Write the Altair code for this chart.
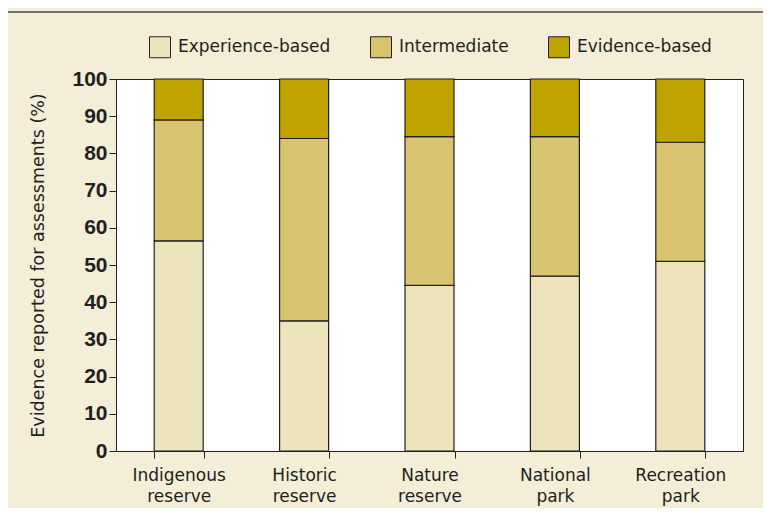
import altair as alt
import pandas as pd

categories = ["Indigenous reserve", "Historic reserve", "Nature reserve", "National park", "Recreation park"]
levels = ["Experience-based", "Intermediate", "Evidence-based"]
experience = [56.5, 35.0, 44.5, 47.0, 51.0]
intermediate = [32.5, 49.0, 40.0, 37.5, 32.0]
evidence = [11.0, 16.0, 15.5, 15.5, 17.0]
colors = ["#EDE3BD", "#D8C470", "#BFA400"]
y_ticks = [0, 10, 20, 30, 40, 50, 60, 70, 80, 90, 100]

rows = []
for i, c in enumerate(categories):
    for j, (lvl, vals) in enumerate(zip(levels, [experience, intermediate, evidence])):
        rows.append({"category": c, "level": lvl, "value": vals[i], "order": j})
df = pd.DataFrame(rows)

FONT = "DejaVu Sans"
INK = "#231f20"

bars = alt.Chart(df).mark_bar(size=49, stroke=INK, strokeWidth=1.2).encode(
    x=alt.X("category:N", sort=categories, title=None,
            scale=alt.Scale(paddingInner=0.6, paddingOuter=0.3),
            axis=alt.Axis(labelAngle=0, tickBand="extent", tickSize=7, tickColor=INK,
                          domainColor=INK, labelFont=FONT, labelFontSize=17,
                          labelColor=INK, labelPadding=9, labelLineHeight=21,
                          labelExpr="split(datum.label, ' ')", labelBaseline="top")),
    y=alt.Y("value:Q", stack="zero",
            scale=alt.Scale(domain=[0, 100], nice=False),
            axis=alt.Axis(values=y_ticks, grid=False, tickSize=7, tickColor=INK,
                          domainColor=INK, labelFont="Liberation Sans", labelFontWeight="bold",
                          labelFontSize=21, labelColor=INK, labelPadding=2,
                          title="Evidence reported for assessments (%)",
                          titleFont=FONT, titleFontSize=17.5, titleFontWeight="normal",
                          titleColor=INK, titlePadding=24)),
    color=alt.Color("level:N", scale=alt.Scale(domain=levels, range=colors),
                    legend=alt.Legend(title=None, orient="none", direction="horizontal",
                                      legendX=33, legendY=-43, padding=0,
                                      symbolType="square", symbolSize=441,
                                      symbolStrokeColor=INK, symbolStrokeWidth=1,
                                      symbolOpacity=1,
                                      labelFont=FONT, labelFontSize=17, labelColor=INK,
                                      labelOffset=7, columnPadding=37)),
    order=alt.Order("order:Q", sort="ascending"),
)

one = alt.Data(values=[{"a": 1}])
left_border = alt.Chart(one).mark_rule(color="#4a4a4a", strokeWidth=1.5).encode(
    x=alt.value(-109), y=alt.value(-67), y2=alt.value(440))
top_border = alt.Chart(one).mark_rule(color="#4a4a4a", strokeWidth=1.5).encode(
    x=alt.value(-109), x2=alt.value(660), y=alt.value(-67))

chart = alt.layer(left_border, top_border, bars).properties(
    width=627, height=372,
    autosize="none",
    padding={"left": 108, "top": 71, "right": 20, "bottom": 57},
    background="#F4EDD7",
).configure_view(fill="white", stroke=INK, strokeWidth=1)

chart.save("out.html", embed_options={"renderer": "svg", "actions": False})
